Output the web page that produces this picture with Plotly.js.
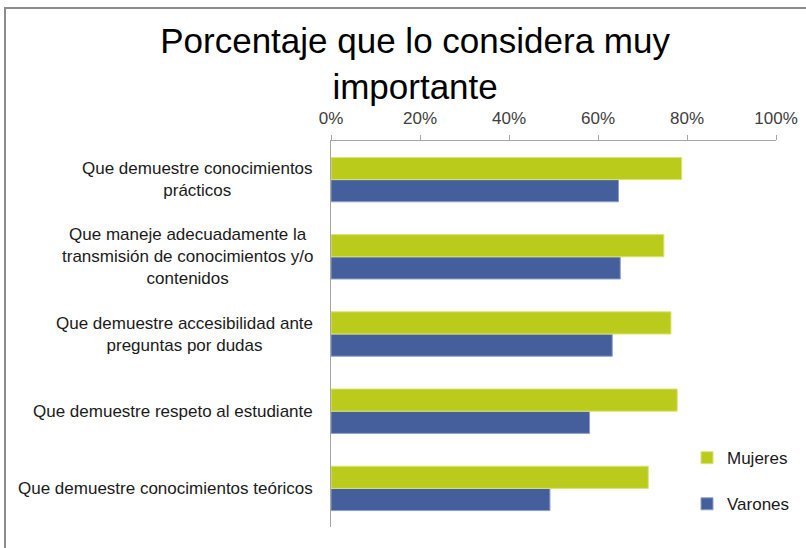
<!DOCTYPE html>
<html>
<head>
<meta charset="utf-8">
<script src="https://cdn.plot.ly/plotly-3.0.1.min.js"></script>
<style>
  html, body { margin: 0; padding: 0; background: #fff; overflow: hidden; }
  #wrap { position: absolute; left: 0; top: 0; width: 806px; height: 548px; overflow: hidden; }
  #frame { position: absolute; left: 4px; top: 7px; width: 840px; height: 600px; border: 2px solid #8c8c8c; box-sizing: border-box; pointer-events: none; }
  #chart { position: absolute; left: 0; top: 0; width: 806px; height: 548px; }
</style>
</head>
<body>
<div id="wrap">
  <div id="chart"></div>
  <div id="frame"></div>
</div>
<script>
// Categories, bottom to top as drawn by the axis
const categories = [
  "Que demuestre conocimientos teóricos",
  "Que demuestre respeto al estudiante",
  "Que demuestre accesibilidad ante preguntas por dudas",
  "Que maneje adecuadamente la transmisión de conocimientos y/o contenidos",
  "Que demuestre conocimientos prácticos"
];
const categoryLabels = [
  "Que demuestre conocimientos teóricos",
  "Que demuestre respeto al estudiante",
  "Que demuestre accesibilidad ante<br>preguntas por dudas",
  "Que maneje adecuadamente la<br>transmisión de conocimientos y/o<br>contenidos",
  "Que demuestre conocimientos<br>prácticos"
];
const mujeres = [71.3, 77.8, 76.4, 74.8, 78.8];
const varones = [49.2, 58.1, 63.2, 65.0, 64.6];
const xTickVals = [0, 20, 40, 60, 80, 100];
const xTickText = ["0%", "20%", "40%", "60%", "80%", "100%"];

const FONT = "Liberation Sans, Arial, sans-serif";

const traces = [
  {
    type: "bar", orientation: "h", name: "Varones",
    y: categories, x: varones,
    marker: { color: "#455e9c", line: { color: "#8f9fc8", width: 1 } },
    legendgroup: "v", legendrank: 2, hoverinfo: "x+y"
  },
  {
    type: "bar", orientation: "h", name: "Mujeres",
    y: categories, x: mujeres,
    marker: { color: "#bbcb1b", line: { color: "#d9e37a", width: 1 } },
    legendgroup: "m", legendrank: 1, hoverinfo: "x+y"
  }
];

const annotations = categories.map((c, i) => ({
  xref: "paper", yref: "y", x: -0.035, y: c,
  xanchor: "right", yanchor: "middle", align: "center",
  text: categoryLabels[i], showarrow: false,
  font: { family: FONT, size: 17, color: "#1a1a1a" }
}));

const layout = {
  width: 806, height: 548,
  margin: { l: 331, r: 30, t: 141, b: 21, autoexpand: false },
  paper_bgcolor: "#ffffff", plot_bgcolor: "#ffffff",
  barmode: "group", bargap: 0.425, bargroupgap: 0,
  title: {
    text: "Porcentaje que lo considera muy<br>importante",
    font: { family: FONT, size: 35, color: "#000000" },
    xref: "container", x: 0.515, xanchor: "center",
    yref: "container", y: 0.903, yanchor: "top"
  },
  xaxis: {
    side: "top", range: [0, 100], tickvals: xTickVals, ticktext: xTickText,
    showgrid: false, zeroline: false, showline: true, linecolor: "#a6a6a6", linewidth: 1,
    ticks: "outside", ticklen: 5, tickcolor: "#a6a6a6", ticklabelstandoff: 4,
    tickfont: { family: FONT, size: 17, color: "#404040" },
    automargin: false, fixedrange: true
  },
  yaxis: {
    type: "category", categoryorder: "array", categoryarray: categories,
    showticklabels: false, showgrid: false, zeroline: false,
    showline: true, linecolor: "#a6a6a6", linewidth: 1, ticks: "",
    automargin: false, fixedrange: true
  },
  showlegend: true,
  legend: {
    x: 0.80, xanchor: "left", y: 0.225, yanchor: "top",
    traceorder: "grouped", tracegroupgap: 21,
    font: { family: FONT, size: 17, color: "#1a1a1a" },
    bgcolor: "rgba(0,0,0,0)", itemwidth: 30
  },
  annotations: annotations
};

Plotly.newPlot("chart", traces, layout, { displayModeBar: false, staticPlot: true });
</script>
</body>
</html>
